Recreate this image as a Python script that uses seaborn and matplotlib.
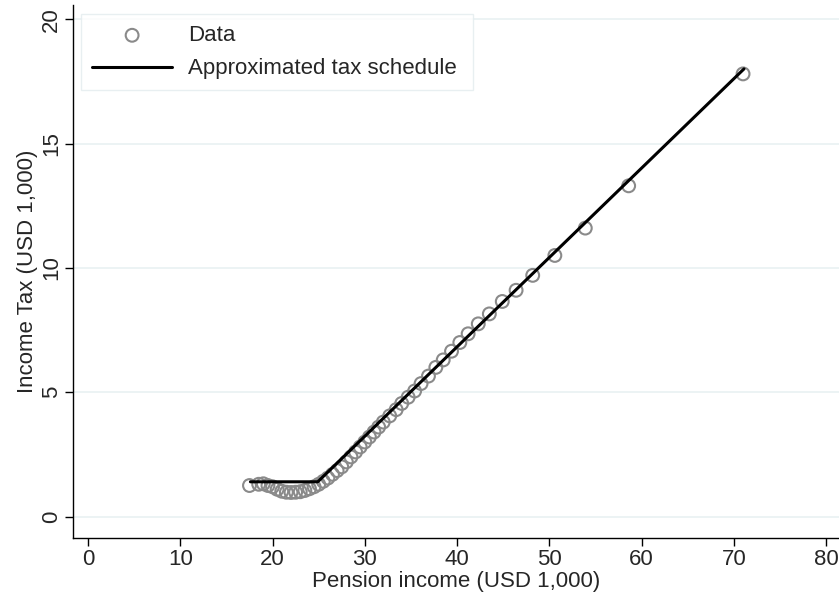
import numpy as np
import pandas as pd
import seaborn as sns
import matplotlib.pyplot as plt

# binned data points (USD 1,000)
pension = [17.5, 18.5, 19.0, 19.5, 20.0, 20.5, 21.0, 21.5, 22.0, 22.5,
           23.0, 23.5, 24.0, 24.5, 25.0, 25.5, 26.0, 26.5, 27.0, 27.5,
           28.0, 28.5, 29.0, 29.5, 30.0, 30.5, 31.0, 31.5, 32.0, 32.7,
           33.4, 34.0, 34.7, 35.4, 36.1, 36.9, 37.7, 38.5, 39.4, 40.3,
           41.2, 42.3, 43.5, 44.9, 46.4, 48.2, 50.6, 53.9, 58.6, 71.0]
tax = [1.25, 1.3, 1.32, 1.25, 1.2, 1.1, 1.02, 0.98, 0.97, 0.98,
       1.0, 1.05, 1.12, 1.2, 1.3, 1.42, 1.55, 1.7, 1.85, 2.0,
       2.2, 2.4, 2.6, 2.8, 3.0, 3.2, 3.4, 3.6, 3.8, 4.05,
       4.3, 4.55, 4.8, 5.05, 5.35, 5.65, 6.0, 6.3, 6.65, 7.0,
       7.35, 7.75, 8.15, 8.65, 9.1, 9.7, 10.5, 11.6, 13.3, 17.8]

# approximated tax schedule
sched_x = [17.6, 24.9, 71.1]
sched_y = [1.4, 1.4, 18.0]

xticks = [0, 10, 20, 30, 40, 50, 60, 70, 80]
yticks = [0, 5, 10, 15, 20]

df = pd.DataFrame({'pension': pension, 'tax': tax})
sched = pd.DataFrame({'x': sched_x, 'y': sched_y})

sns.set_style('white')
plt.rcParams['font.family'] = ['Liberation Sans', 'DejaVu Sans']

fig = plt.figure(figsize=(8.39, 5.93), dpi=100)
ax = fig.add_axes([73/839, 1 - 538/593, 1 - 73/839, (538 - 5)/593])

for yt in yticks:
    ax.axhline(yt, color='#eaf2f3', lw=1.3, zorder=0)

sns.scatterplot(data=df, x='pension', y='tax', ax=ax, marker='o', s=85,
                facecolor='none', edgecolor='#8a8a8a', linewidth=1.5,
                label='Data', zorder=2)
sns.lineplot(data=sched, x='x', y='y', ax=ax, color='black', lw=2.2,
             label='Approximated tax schedule', zorder=3)

ax.set_xlim(-1.63, 81.4)
ax.set_ylim(-0.86, 20.57)
ax.set_xticks(xticks)
ax.set_yticks(yticks)
ax.tick_params(axis='both', labelsize=16, length=6, width=1, direction='out',
               color='black', bottom=True, left=True, pad=2)
for lab in ax.get_yticklabels():
    lab.set_rotation(90)
    lab.set_va('center')

ax.set_xlabel('Pension income (USD 1,000)', fontsize=16, labelpad=1)
ax.set_ylabel('Income Tax (USD 1,000)', fontsize=16, labelpad=2)

sns.despine(ax=ax)
ax.spines['left'].set_linewidth(1)
ax.spines['bottom'].set_linewidth(1)
ax.spines['left'].set_color('black')
ax.spines['bottom'].set_color('black')

leg = ax.legend(loc='upper left',
                bbox_to_anchor=(81/839, 1 - 85/593, (473 - 81)/839, (85 - 14)/593),
                bbox_transform=fig.transFigure, mode='expand', fontsize=16,
                frameon=True, fancybox=False, edgecolor='#e3ecee',
                handlelength=3.6, handletextpad=0.7, borderpad=0.5,
                labelspacing=0.55, borderaxespad=0)
leg.get_frame().set_linewidth(1)

fig.savefig('out.png', dpi=100)
